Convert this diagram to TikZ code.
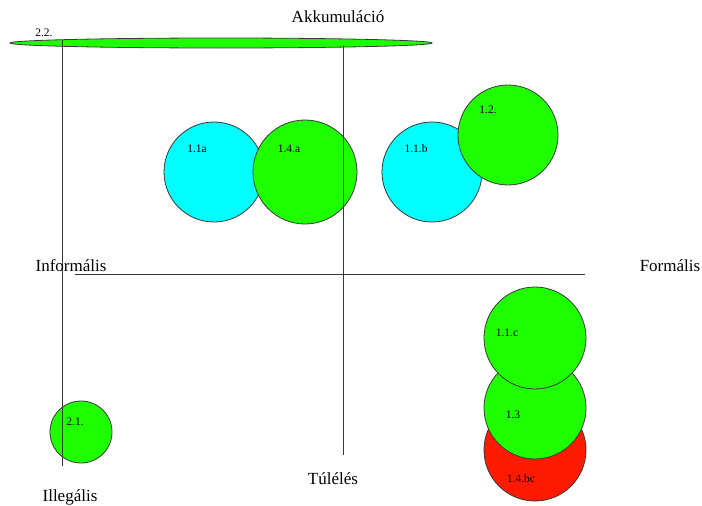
\documentclass[tikz,border=0pt]{standalone}
\usepackage{fontspec}
\setmainfont{Liberation Serif}
\usetikzlibrary{shapes.geometric}
\definecolor{cgreen}{HTML}{1EFF00}
\definecolor{ccyan}{HTML}{00FFFF}
\definecolor{cred}{HTML}{FF1A00}
\definecolor{cline}{HTML}{383838}
\tikzset{
  blob/.style={circle,draw=cline,line width=0.8pt,inner sep=0pt,minimum size=#1},
  tag/.style={inner sep=0pt,font=\fontsize{11.5}{11.5}\selectfont},
  axislabel/.style={inner sep=0pt,font=\fontsize{17}{17}\selectfont},
  axis/.style={draw=cline,line width=0.9pt}
}
\begin{document}
\begin{tikzpicture}[x=1pt,y=-1pt]
\useasboundingbox (0,0) rectangle (702,506);
% bar
\node[ellipse,draw=cline,fill=cgreen,line width=0.8pt,inner sep=0pt,minimum width=422,minimum height=10] (bar) at (221,43) {};
% circles
\node[blob=100,fill=ccyan] (c11a) at (214,172) {};
\node[blob=104,fill=cgreen] (c14a) at (305,172) {};
\node[blob=100,fill=ccyan] (c11b) at (432,172) {};
\node[blob=100,fill=cgreen] (c12) at (508,135) {};
\node[blob=102,fill=cred] (c14bc) at (535,450) {};
\node[blob=102,fill=cgreen] (c13) at (535,408) {};
\node[blob=102,fill=cgreen] (c11c) at (535,338) {};
\node[blob=62,fill=cgreen] (c21) at (81,432) {};
% axes
\coordinate (v1t) at (62,40);
\coordinate (v1b) at (62,466);
\coordinate (v2t) at (343,45);
\coordinate (v2b) at (343,455);
\coordinate (hl) at (75,274);
\coordinate (hr) at (585,274);
\draw[axis] (v1t) -- (v1b);
\draw[axis] (v2t) -- (v2b);
\draw[axis] (hl) -- (hr);
% labels
\node[axislabel] (akk) at (338,17) {Akkumuláció};
\node[axislabel] (inf) at (71,266) {Informális};
\node[axislabel] (form) at (670,266) {Formális};
\node[axislabel] (tul) at (333,479) {Túlélés};
\node[axislabel] (ill) at (70,497) {Illegális};
% tags
\node[tag] (t22) at (44,33) {2.2.};
\node[tag] (t11a) at (197,149) {1.1a};
\node[tag] (t14a) at (289,149) {1.4.a};
\node[tag] (t11b) at (416,149) {1.1.b};
\node[tag] (t12) at (488,110) {1.2.};
\node[tag] (t11c) at (507,333) {1.1.c};
\node[tag] (t13) at (513,415) {1.3};
\node[tag] (t14bc) at (521,479) {1.4.bc};
\node[tag] (t21) at (75,422) {2.1.};
\end{tikzpicture}
\end{document}
